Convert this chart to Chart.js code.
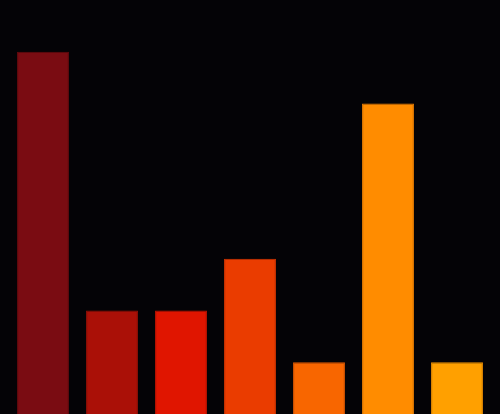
<!DOCTYPE html>
<html>
<head>
<meta charset="utf-8">
<script src="https://cdn.jsdelivr.net/npm/chart.js@4/dist/chart.umd.min.js"></script>
<style>
  html, body { margin: 0; padding: 0; background: #040306; }
  #wrap { width: 500px; height: 414px; }
</style>
</head>
<body>
<div id="wrap"><canvas id="bars"></canvas></div>
<script>
// bar chart, no axes, warm palette
const categories = ['A', 'B', 'C', 'D', 'E', 'F', 'G']
const values = [7, 2, 2, 3, 1, 6, 1]
const fills = ['#7a0c12', '#aa1007', '#e01500', '#ea3c00', '#f86600', '#ff8c00', '#ffa000']
const edges = ['#6a0a0e', '#981006', '#c81400', '#d83600', '#e05800', '#f08000', '#f09000']

const frame = document.getElementById('bars')

new Chart(frame, {
    type: 'bar',
    data: {
        labels: categories,
        datasets: [{
            data: values,
            backgroundColor: fills,
            borderColor: edges,
            borderWidth: 1,
            barPercentage: 0.8,
            categoryPercentage: 0.94
        }]
    },
    options: {
        maintainAspectRatio: false,
        responsive: true,
        animation: false,
        layout: { padding: { left: 8.5, right: 8.5, top: 0, bottom: 0 } },
        plugins: { legend: { display: false }, tooltip: { enabled: false } },
        scales: {
            x: { display: false },
            y: { display: false, min: 0, max: 8 }
        }
    }
})
</script>
</body>
</html>
